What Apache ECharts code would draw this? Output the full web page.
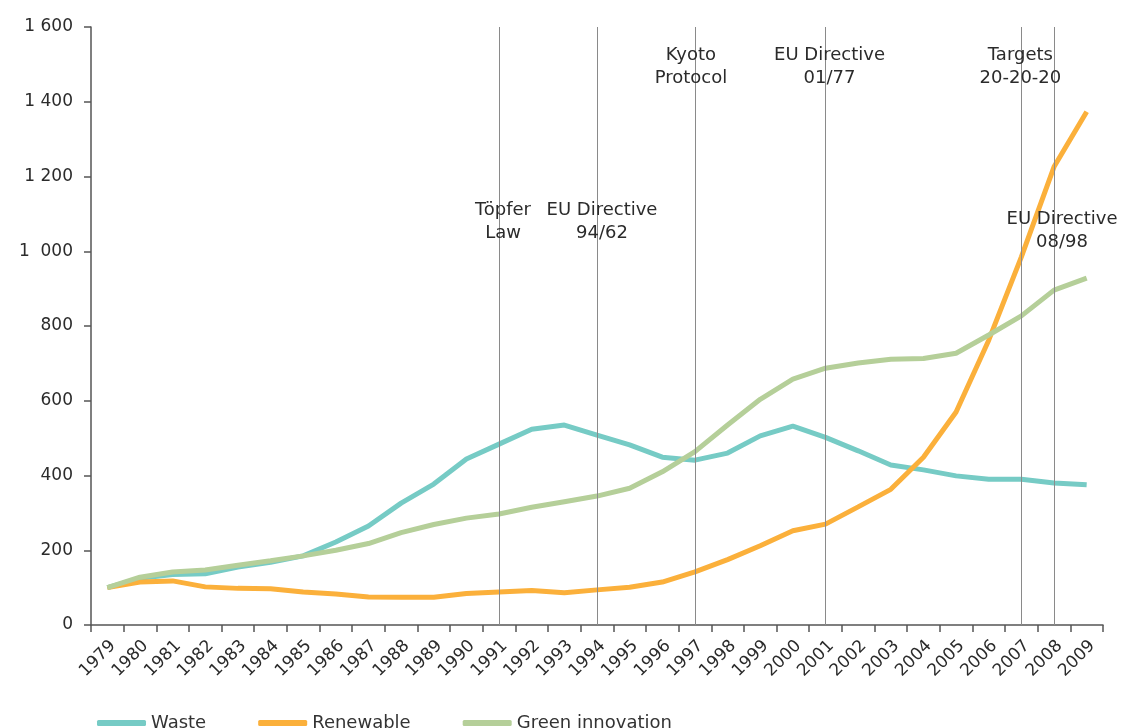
<!DOCTYPE html>
<html>
<head>
<meta charset="utf-8">
<title>Waste, renewable and green innovation</title>
<script src="https://cdn.jsdelivr.net/npm/echarts@6/dist/echarts.min.js"></script>
<style>
  html, body { margin: 0; padding: 0; background: #fff; }
  #chart { width: 1122px; height: 728px; }
</style>
</head>
<body>
<div id="chart"></div>
<script>
// 数据
const years = ['1979', '1980', '1981', '1982', '1983', '1984', '1985', '1986', '1987', '1988',
  '1989', '1990', '1991', '1992', '1993', '1994', '1995', '1996', '1997', '1998',
  '1999', '2000', '2001', '2002', '2003', '2004', '2005', '2006', '2007', '2008', '2009']

const waste = [100, 125, 135, 137, 155, 168, 185, 222, 265, 326,
  377, 444, 484, 524, 535, 508, 482, 449, 441, 460,
  506, 532, 502, 466, 428, 415, 399, 390, 390, 380, 375]

const renewable = [100, 115, 118, 102, 98, 97, 88, 83, 75, 74,
  74, 84, 88, 92, 86, 94, 101, 115, 142, 175,
  212, 252, 270, 316, 363, 449, 570, 762, 985, 1226, 1373]

const greenInnovation = [100, 128, 142, 147, 160, 172, 185, 200, 218, 247,
  269, 286, 297, 315, 330, 345, 366, 410, 464, 535,
  604, 658, 687, 701, 711, 713, 727, 776, 827, 896, 928]

const yTickLabels = ['0', '200', '400', '600', '800', '1  000', '1 200', '1 400', '1 600']

// 政策节点
const eventYears = ['1991', '1994', '1997', '2001', '2007', '2008']
const eventTexts = ['Töpfer\nLaw', 'EU Directive\n94/62', 'Kyoto\nProtocol', 'EU Directive\n01/77', 'Targets\n20-20-20', 'EU Directive\n08/98']
const eventLevels = [1078, 1078, 1494, 1494, 1494, 1054]

const labelOffsets = [[4, 0], [5, 0], [-4, 0], [4, 0], [-1, 0], [8, 0]]

const font = 'DejaVu Sans, Verdana, sans-serif'

const options = {
  backgroundColor: '#fff',
  animation: false,
  textStyle: { fontFamily: font },
  grid: {
    left: 91,
    right: 19,
    top: 27,
    bottom: 103,
    containLabel: false
  },
  legend: {
    left: 92,
    top: 709,
    icon: 'roundRect',
    itemWidth: 49,
    itemHeight: 6,
    itemGap: 52,
    textStyle: { fontFamily: font, fontSize: 18, color: '#333' },
    data: ['Waste', 'Renewable', 'Green innovation']
  },
  xAxis: {
    type: 'category',
    data: years,
    boundaryGap: true,
    axisLine: { lineStyle: { color: '#555', width: 1.5 } },
    axisTick: { show: true, length: 7, lineStyle: { color: '#555', width: 1.5 } },
    axisLabel: {
      interval: 0,
      rotate: 45,
      margin: 24,
      padding: [0, -8, 0, 0],
      fontSize: 17,
      color: '#2b2b2b',
      fontFamily: font
    },
    splitLine: { show: false }
  },
  yAxis: {
    type: 'value',
    min: 0,
    max: 1600,
    interval: 200,
    axisLine: { show: true, lineStyle: { color: '#555', width: 1.5 } },
    axisTick: { show: true, length: 7, lineStyle: { color: '#555', width: 1.5 } },
    axisLabel: {
      margin: 18,
      fontSize: 17,
      color: '#2b2b2b',
      fontFamily: font,
      formatter: (v) => yTickLabels[Math.round(v / 200)]
    },
    splitLine: { show: false }
  },
  series: [
    {
      name: 'Waste',
      type: 'line',
      data: waste,
      showSymbol: false,
      color: '#76cbc5',
      lineStyle: { width: 5, color: '#76cbc5' },
      z: 3,
      markLine: {
        silent: true,
        symbol: 'none',
        label: { show: false },
        lineStyle: { color: '#8a8a8a', width: 1, type: 'solid' },
        data: eventYears.map((y) => ({ xAxis: y }))
      }
    },
    {
      name: 'Renewable',
      type: 'line',
      data: renewable,
      showSymbol: false,
      color: '#fbb03b',
      lineStyle: { width: 5, color: '#fbb03b' },
      z: 3
    },
    {
      name: 'Green innovation',
      type: 'line',
      data: greenInnovation,
      showSymbol: false,
      color: '#b5cf99',
      lineStyle: { width: 5, color: '#b5cf99' },
      z: 3,
      markPoint: {
        silent: true,
        symbol: 'circle',
        symbolSize: 0,
        label: {
          show: true,
          position: 'inside',
          fontSize: 18,
          lineHeight: 23,
          color: '#2b2b2b',
          fontFamily: font,
          align: 'center'
        },
        data: eventYears.map((y, i) => ({
          coord: [y, eventLevels[i]],
          label: { formatter: eventTexts[i], offset: labelOffsets[i] }
        }))
      }
    }
  ]
}

const chart = echarts.init(document.getElementById('chart'))
chart.setOption(options)
window.addEventListener('resize', () => {
  chart.resize()
})
</script>
</body>
</html>
